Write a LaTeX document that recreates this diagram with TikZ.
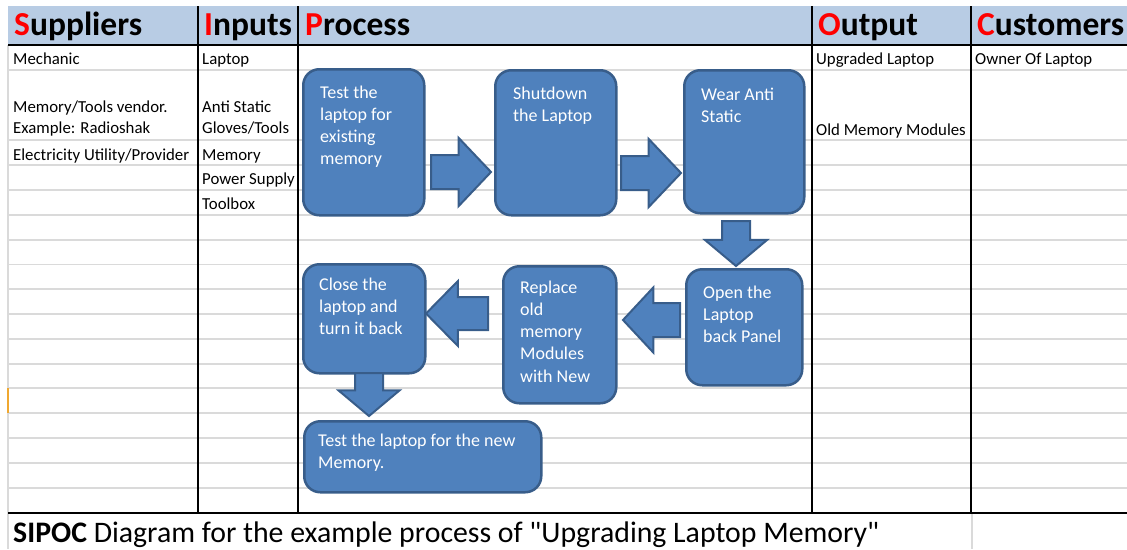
\documentclass[tikz,border=0pt]{standalone}
\usepackage{fontspec}
\setmainfont{Carlito}
\usetikzlibrary{shapes.arrows}
\definecolor{hdr}{HTML}{B8CCE4}
\definecolor{gridc}{HTML}{DADADA}
\definecolor{boxfill}{HTML}{4F81BD}
\definecolor{boxline}{HTML}{385D8A}
\definecolor{selc}{HTML}{F0A830}
\begin{document}
\begin{tikzpicture}[x=1pt,y=-1pt,
  hd/.style={font=\fontsize{33.5}{38}\selectfont\bfseries, anchor=base west, inner sep=0},
  cell/.style={font=\fontsize{16.8}{19}\selectfont, anchor=base west, inner sep=0},
  pbox/.style={draw=boxline, fill=boxfill, line width=2.5pt, rounded corners=16pt, anchor=north west, inner sep=0},
  ptext/.style={text=white, font=\fontsize{18}{22.3}\selectfont, align=left, anchor=base west, inner sep=0},
  barrow/.style={shape=single arrow, draw=boxline, fill=boxfill, line width=2pt, inner xsep=0pt, outer sep=0pt, anchor=tail},
  gline/.style={draw=gridc, line width=1.5pt},
  dline/.style={draw=black, line width=1.3pt},
]
\useasboundingbox (0,0) rectangle (1127,549);
% header band
\fill[hdr] (8,6) rectangle (1127,45);
% grid
\foreach \yy in {70,140,165,190,215,240,264.5,289,314,339,364,388,413,438,463,488}
  \draw[gline] (8,\yy) -- (1127,\yy);
\draw[gline] (8,45) -- (8,549);
\draw[gline] (972,513) -- (972,549);
\draw[selc, line width=2pt] (8,388) -- (8,413);
\foreach \xx in {198,298,812,971}
  \draw[dline] (\xx,6) -- (\xx,513);
\draw[dline] (8,45) -- (1127,45);
\draw[black, line width=1.8pt] (8,513) -- (1127,513);
% headers
\node[hd] (hS) at (14,35) {\textcolor{red}{S}uppliers};
\node[hd] (hI) at (204,35) {\textcolor{red}{I}nputs};
\node[hd] (hP) at (305,35) {\textcolor{red}{P}rocess};
\node[hd] (hO) at (818,35) {\textcolor{red}{O}utput};
\node[hd] (hC) at (977,35) {\textcolor{red}{C}ustomers};
% cells
\node[cell] (s1) at (13,64) {Mechanic};
\node[cell] (s2) at (13,112) {Memory/Tools vendor.};
\node[cell] (s3) at (13,133) {Example: Radioshak};
\node[cell] (s4) at (13,160) {Electricity Utility/Provider};
\node[cell] (i1) at (202,64) {Laptop};
\node[cell] (i2) at (202,112) {Anti Static};
\node[cell] (i3) at (202,133) {Gloves/Tools};
\node[cell] (i4) at (202,160) {Memory};
\node[cell] (i5) at (202,184.5) {Power Supply};
\node[cell] (i6) at (202,209) {Toolbox};
\node[cell] (o1) at (816,64) {Upgraded Laptop};
\node[cell] (o2) at (816,135) {Old Memory Modules};
\node[cell] (c1) at (975,64) {Owner Of Laptop};
% process boxes
\node[pbox, minimum width=121pt, minimum height=146pt] (b1) at (302,68) {};
\node[pbox, minimum width=121pt, minimum height=145pt] (b2) at (494,69) {};
\node[pbox, minimum width=120pt, minimum height=143pt] (b3) at (683,69) {};
\node[pbox, minimum width=116pt, minimum height=116pt] (b4) at (685,268) {};
\node[pbox, minimum width=113pt, minimum height=137pt] (b5) at (502,265) {};
\node[pbox, minimum width=122pt, minimum height=109pt] (b6) at (302,263) {};
\node[pbox, minimum width=237pt, minimum height=71pt] (b7) at (303,420) {};
% box texts (anchored at the baseline of their last line)
\node[ptext] (t1) at (320,164.9) {Test the\\laptop for\\existing\\memory};
\node[ptext] (t2) at (513,121.3) {Shutdown\\the Laptop};
\node[ptext] (t3) at (701,122.3) {Wear Anti\\Static};
\node[ptext] (t4) at (703,342.6) {Open the\\Laptop\\back Panel};
\node[ptext] (t5) at (520,382.2) {Replace\\old\\memory\\Modules\\with New};
\node[ptext] (t6) at (319,334.6) {Close the\\laptop and\\turn it back};
\node[ptext] (t7) at (318,468.8) {Test the laptop for the new\\Memory.};
% block arrows (placed by their tails)
\node[barrow, minimum height=60pt, inner ysep=16pt, single arrow head extend=17pt, single arrow tip angle=93] (a1) at (431,172) {};
\node[barrow, minimum height=60pt, inner ysep=16pt, single arrow head extend=17pt, single arrow tip angle=93] (a2) at (621,173) {};
\node[barrow, minimum height=45pt, inner ysep=13pt, single arrow head extend=17pt, single arrow tip angle=100, rotate=-90] (a3) at (736,221) {};
\node[barrow, minimum height=57pt, inner ysep=16pt, single arrow head extend=15.5pt, single arrow tip angle=94, rotate=180] (a4) at (680,320) {};
\node[barrow, minimum height=62pt, inner ysep=15.5pt, single arrow head extend=16pt, single arrow tip angle=91, rotate=180] (a5) at (488,313.5) {};
\node[barrow, minimum height=43pt, inner ysep=13pt, single arrow head extend=16.5pt, single arrow tip angle=100, rotate=-90] (a6) at (369,373) {};
% caption
\node[anchor=base west, inner sep=0, font=\fontsize{29.8}{33}\selectfont] (cap) at (13,542)
  {\textbf{SIPOC} Diagram for the example process of \textquotedbl Upgrading Laptop Memory\textquotedbl};
\end{tikzpicture}
\end{document}
